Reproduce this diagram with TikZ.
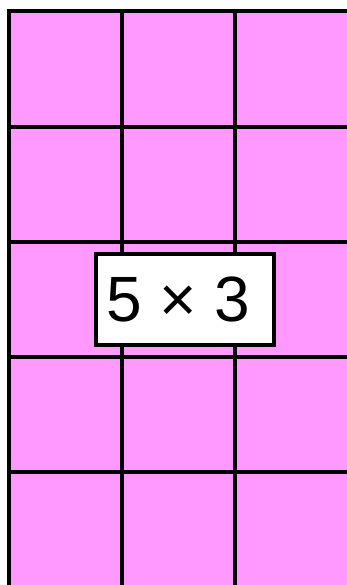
\documentclass[tikz,border=0pt]{standalone}
\usepackage{fontspec}
\setmainfont{Liberation Sans}
\usepackage{xcolor}
\usepackage{tikz}
\usetikzlibrary{positioning}

\definecolor{cellpink}{HTML}{FF99FF}

\begin{document}
\begin{tikzpicture}[
    x=1pt, y=-1pt,
    gridline/.style={line width=4pt, line cap=rect},
    factbox/.style={rectangle, draw, fill=white, line width=4pt,
                    minimum width=178pt, minimum height=91pt,
                    inner sep=0pt, font=\fontsize{64}{64}\selectfont}
]
\useasboundingbox (0,0) rectangle (347,585);
\clip (0,0) rectangle (347,585);
% cells
\fill[cellpink] (9,11.5) rectangle (347,585);
% grid lines
\foreach \x in {9,122,235}
    \draw[gridline] (\x,11.5) -- (\x,600);
\foreach \y in {11.5,126.6,241.7,356.9,472}
    \draw[gridline] (9,\y) -- (360,\y);
% the fact
\node[factbox] (fact) at (185,299.5) {5 × 3\hspace*{13pt}};
\end{tikzpicture}
\end{document}
